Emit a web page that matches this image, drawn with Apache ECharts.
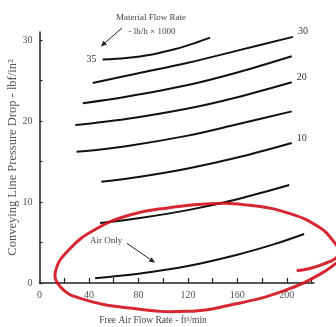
<!DOCTYPE html>
<html>
<head>
<meta charset="utf-8">
<script src="https://cdn.jsdelivr.net/npm/echarts@6/dist/echarts.min.js"></script>
<style>html,body{margin:0;padding:0;background:#fff}#c{width:336px;height:327px}</style>
</head>
<body>
<div id="c"></div>
<script>
// Tick / label values
const xTickValues = [20, 40, 60, 80, 100, 120, 140, 160, 180, 200, 220];
const xLabelValues = [0, 40, 80, 120, 160, 200];
const yTickValues = [0, 5, 10, 15, 20, 25, 30];
const yLabelValues = [0, 10, 20, 30];

// Curves: [free air flow rate ft3/min, pressure drop lbf/in2]
const curve35 = [[51, 27.6], [70, 27.8], [90, 28.2], [110, 28.9], [125, 29.6], [138, 30.3]];
const curve30 = [[43, 24.7], [80, 25.9], [120, 27.2], [160, 28.7], [205, 30.4]];
const curve25 = [[35, 22.2], [70, 23.0], [120, 24.45], [160, 26.0], [204, 28.0]];
const curve20 = [[29, 19.5], [70, 20.25], [120, 21.55], [160, 22.95], [204, 24.8]];
const curve15 = [[30, 16.2], [70, 16.9], [120, 18.2], [160, 19.6], [204, 21.2]];
const curve10 = [[50, 12.5], [80, 13.1], [120, 14.15], [160, 15.5], [204, 17.3]];
const curve5  = [[49, 7.4], [80, 8.0], [120, 9.0], [160, 10.35], [202, 12.1]];
const airOnly = [[45, 0.6], [80, 1.15], [120, 2.1], [160, 3.5], [190, 4.8], [214, 6.05]];

// Annotation geometry (data coordinates)
const arrowMaterial = [[66.7, 31.5], [49.5, 29.2]];
const arrowAir = [[70.7, 4.9], [93.5, 2.5]];
const annotationLoop = [[208, 1.5], [229, 2.3], [242, 3.6], [237, 5.3], [225, 7.0], [202, 8.6], [170, 9.6], [138, 9.8], [105, 9.3], [73, 8.4], [45, 6.6], [25, 4.3], [13, 1.5], [17, -0.5], [33, -1.9], [73, -3.1], [119, -3.5], [158, -2.6], [197, -1.0], [227, 1.1], [245, 3.1]];

const SERIF = '"Liberation Serif", "DejaVu Serif", serif';
const INK = '#111';

function curve(name, data, extra) {
  return Object.assign({
    name: name, type: 'line', data: data, smooth: 0.35, symbol: 'none',
    lineStyle: { color: INK, width: 2 }, z: 3
  }, extra || {});
}
const endLbl = { show: true, formatter: '{a}', color: '#333', fontFamily: SERIF, fontSize: 10, offset: [0, -5], distance: 5 };

const chart = echarts.init(document.getElementById('c'), null, { renderer: 'canvas' });
chart.setOption({
  animation: false,
  backgroundColor: '#fff',
  grid: { left: 39.5, right: 22, top: 32, bottom: 44, containLabel: false, outerBoundsMode: 'none' },
  xAxis: {
    type: 'value', min: 0, max: 222,
    axisLine: { show: true, lineStyle: { color: '#222', width: 1.5 } },
    axisTick: { show: true, inside: true, length: 5, customValues: xTickValues, lineStyle: { color: '#222', width: 1.2 } },
    axisLabel: { customValues: xLabelValues, color: '#555', fontFamily: SERIF, fontSize: 10, margin: 7 },
    splitLine: { show: false }
  },
  yAxis: {
    type: 'value', min: 0, max: 31,
    name: 'Conveying Line Pressure Drop - lbf/in²',
    nameLocation: 'middle', nameGap: 20, nameMoveOverlap: false,
    nameTextStyle: { color: '#555', fontFamily: SERIF, fontSize: 12.5 },
    axisLine: { show: true, lineStyle: { color: '#222', width: 1.5 } },
    axisTick: { show: true, inside: true, length: 3, customValues: yTickValues, lineStyle: { color: '#222', width: 1.2 } },
    axisLabel: { customValues: yLabelValues, color: '#555', fontFamily: SERIF, fontSize: 10, margin: 7 },
    splitLine: { show: false }
  },
  series: [
    curve('35', curve35),
    curve('30', curve30, { endLabel: endLbl }),
    curve('25', curve25),
    curve('20', curve20, { endLabel: endLbl }),
    curve('15', curve15),
    curve('10', curve10, { endLabel: endLbl }),
    curve('5', curve5),
    curve('Air Only', airOnly)
  ]
});

// Annotations positioned through the axes' scales
const toPx = p => chart.convertToPixel({ gridIndex: 0 }, p);
function arrow(pts) {
  const a = toPx(pts[0]), b = toPx(pts[1]);
  const ang = Math.atan2(b[1] - a[1], b[0] - a[0]);
  const L = 6, W = 2.6;
  const bx = b[0] - L * Math.cos(ang), by = b[1] - L * Math.sin(ang);
  return [
    { type: 'line', shape: { x1: a[0], y1: a[1], x2: bx, y2: by }, style: { stroke: '#222', lineWidth: 1 }, z: 10 },
    { type: 'polygon', shape: { points: [b, [bx - W * Math.sin(ang), by + W * Math.cos(ang)], [bx + W * Math.sin(ang), by - W * Math.cos(ang)]] }, style: { fill: '#222' }, z: 10 }
  ];
}
const start35 = toPx(curve35[0]);
chart.setOption({
  graphic: [
    { type: 'text', style: { text: 'Material Flow Rate', x: 151, y: 18, align: 'center', verticalAlign: 'middle', fill: '#444', font: '9px ' + SERIF }, z: 10 },
    { type: 'text', style: { text: '- lb/h × 1000', x: 152, y: 32, align: 'center', verticalAlign: 'middle', fill: '#444', font: '9px ' + SERIF }, z: 10 },
    { type: 'text', style: { text: '35', x: start35[0] - 6, y: start35[1], align: 'right', verticalAlign: 'middle', fill: '#333', font: '10px ' + SERIF }, z: 10 },
    { type: 'text', style: { text: 'Air Only', x: 90, y: 241, align: 'left', verticalAlign: 'middle', fill: '#444', font: '9px ' + SERIF }, z: 10 },
    { type: 'text', style: { text: 'Free Air Flow Rate - ft³/min', x: 153, y: 320, align: 'center', verticalAlign: 'middle', fill: '#444', font: '9.5px ' + SERIF }, z: 10 },
    ...arrow(arrowMaterial),
    ...arrow(arrowAir),
    { type: 'polyline', shape: { points: annotationLoop.map(toPx), smooth: 0.45 }, style: { stroke: '#d2101c', lineWidth: 3, opacity: 0.9, fill: null }, z: 20 }
  ]
});
</script>
</body>
</html>
